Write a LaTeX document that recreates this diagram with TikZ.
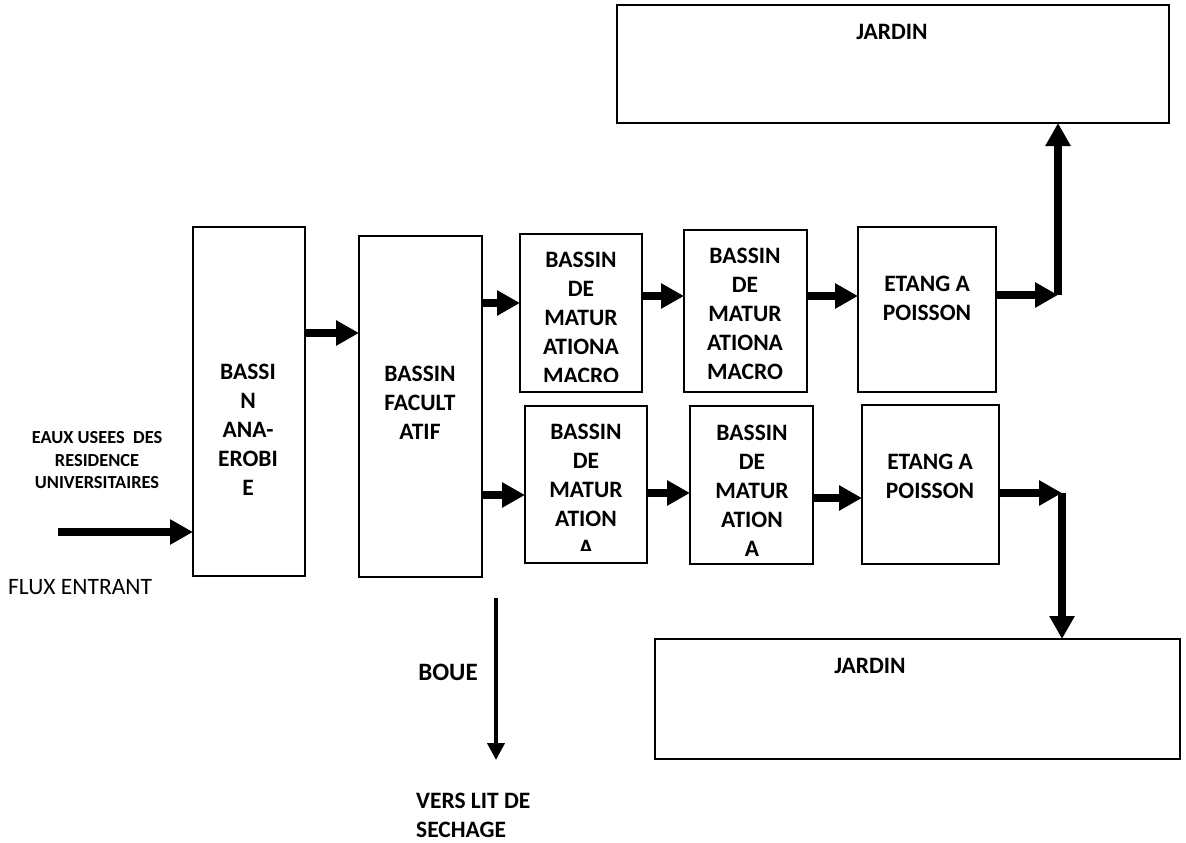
\documentclass[tikz,border=0pt]{standalone}
\usepackage{fontspec}
\setmainfont{Carlito}
\usetikzlibrary{arrows.meta}
\begin{document}
\begin{tikzpicture}[x=1pt,y=-1pt,
  box/.style={draw, line width=1.5pt, inner sep=0pt, outer sep=0pt},
  lbl/.style={font=\bfseries\fontsize{23.5}{29}\selectfont, align=center, inner sep=0pt},
  arr/.style={line width=8pt, -{Triangle[length=23pt,width=24pt]}},
  thinarr/.style={line width=4pt, -{Triangle[length=17pt,width=17pt]}}]
\useasboundingbox[fill=white] (0,0) rectangle (1186,843);
% boxes
\node[box, minimum width=112pt, minimum height=349pt] (ana) at (249,401.5) {};
\node[box, minimum width=123pt, minimum height=341pt] (fac) at (420.5,406.5) {};
\node[box, minimum width=122pt, minimum height=158pt] (t1) at (581,313) {};
\node[box, minimum width=123pt, minimum height=162pt] (t2) at (745.5,311) {};
\node[box, minimum width=138pt, minimum height=165pt] (te) at (927,309.5) {};
\node[box, minimum width=122pt, minimum height=157pt] (b1) at (586,484.5) {};
\node[box, minimum width=123pt, minimum height=158pt] (b2) at (751.5,485) {};
\node[box, minimum width=137pt, minimum height=159pt] (be) at (930.5,484.5) {};
\node[box, minimum width=552pt, minimum height=118pt] (jt) at (893,64) {};
\node[box, minimum width=525pt, minimum height=120pt] (jb) at (917.5,699) {};
% texts
\node[lbl] (tana) at (248,430) {BASSI\\N\\ANA-\\EROBI\\E};
\node[lbl] (tfac) at (420,403) {BASSIN\\FACULT\\ATIF};
\begin{scope}
\clip (520,234) rectangle (642,381);
\node[lbl] (tt1) at (581,318) {BASSIN\\DE\\MATUR\\ATIONA\\MACRO};
\end{scope}
\node[lbl] (tt2) at (745,314) {BASSIN\\DE\\MATUR\\ATIONA\\MACRO};
\node[lbl] (tte) at (927,298.5) {ETANG A\\POISSON};
\begin{scope}
\clip (525,406) rectangle (647,550);
\node[lbl] (tb1) at (586,489.5) {BASSIN\\DE\\MATUR\\ATION\\A};
\end{scope}
\node[lbl] (tb2) at (752,491) {BASSIN\\DE\\MATUR\\ATION\\A};
\node[lbl] (tbe) at (930,476) {ETANG A\\POISSON};
\node[lbl] (tjt) at (892,32) {JARDIN};
\node[lbl] (tjb) at (870,666) {JARDIN};
\node[font=\bfseries\fontsize{18.4}{22.5}\selectfont, align=center, inner sep=0pt] (eaux) at (97,460.5) {EAUX USEES~~DES\\RESIDENCE\\UNIVERSITAIRES};
\node[font=\fontsize{23.5}{29}\selectfont, anchor=west, inner sep=0pt] (flux) at (8,587) {FLUX ENTRANT};
\node[font=\bfseries\fontsize{25}{30}\selectfont, inner sep=0pt] (boue) at (448,672) {BOUE};
\node[font=\bfseries\fontsize{23.5}{29}\selectfont, align=left, anchor=west, inner sep=0pt] (vers) at (416,815) {VERS LIT DE\\SECHAGE};
% connectors
\coordinate (inL) at (58,532);
\draw[arr] (inL) -- (ana.west |- inL);
\draw[arr] (ana.east |- 0,333) -- (fac.west |- 0,333);
\draw[arr] (fac.east |- 0,303) -- (t1.west |- 0,303);
\draw[arr] (t1.east |- 0,296) -- (t2.west |- 0,296);
\draw[arr] (t2.east |- 0,296) -- (te.west |- 0,296);
\coordinate (c1) at (1058,295);
\draw[arr] (te.east |- c1) -- (c1);
\draw[arr] (c1) -- (c1 |- jt.south);
\draw[arr] (fac.east |- 0,495) -- (b1.west |- 0,495);
\draw[arr] (b1.east |- 0,493) -- (b2.west |- 0,493);
\draw[arr] (b2.east |- 0,498) -- (be.west |- 0,498);
\coordinate (c2) at (1062,493);
\draw[arr] (be.east |- c2) -- (c2);
\draw[arr] (c2) -- (c2 |- jb.north);
\coordinate (bTop) at (496,598);
\coordinate (bBot) at (496,760);
\draw[thinarr] (bTop) -- (bBot);
\end{tikzpicture}
\end{document}
